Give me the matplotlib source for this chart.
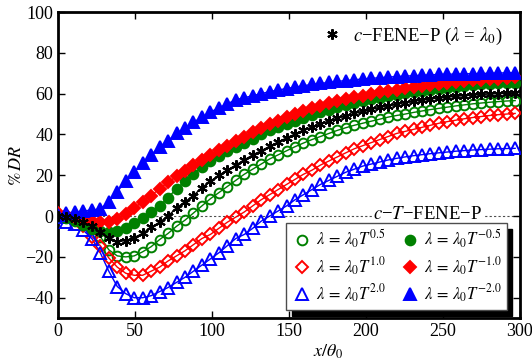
import numpy as np
import matplotlib
matplotlib.use('Agg')
import matplotlib.pyplot as plt

plt.rcParams['font.family'] = ['Liberation Serif', 'DejaVu Serif']
plt.rcParams['mathtext.fontset'] = 'stix'

# marker positions along x/theta0
x = np.linspace(0, 297, 55)

# c-FENE-P (lambda = lambda0)
dr_cfene = [0, -0.5, -1.5, -3, -5, -8, -10.5, -12.5, -12, -10.5, -8.5, -5.5, -3, 0, 4, 7, 10, 14, 17, 20,
            22.5, 25, 27.5, 30, 32, 34.2, 36.3, 38.3, 40.2, 42, 43.7, 45.2, 46.6, 48, 49.2, 50.3, 51.4, 52.4,
            53.3, 54.1, 54.9, 55.6, 56.3, 56.9, 57.4, 57.9, 58.3, 58.7, 59, 59.3, 59.6, 59.8, 60, 60.1, 60.2]

# lambda = lambda0 T^0.5, T^1.0, T^2.0
dr_p05 = [0, -0.5, -1.5, -3, -6, -10, -16.5, -19.5, -20, -19.5, -17.5, -15, -11.5, -8.5, -5, -2, 1.5, 5, 8.5,
          11.5, 14.5, 17.5, 20.5, 23, 25.5, 28, 30, 32, 34, 35.8, 37.5, 39, 40.5, 42, 43.3, 44.5, 45.5, 46.5,
          47.5, 48.5, 49.3, 50, 50.8, 51.5, 52.2, 52.8, 53.4, 54, 54.5, 55, 55.4, 55.8, 56.1, 56.4, 56.6]
dr_p10 = [0.5, -0.5, -2, -5, -10, -14.5, -20.5, -25, -28, -29, -29, -27, -25, -22, -19.5, -17, -14, -11, -9,
          -6, -3, -0.5, 2, 5, 8, 10.5, 13, 15.5, 18, 20.5, 22.5, 25, 27, 29, 31, 33, 34.5, 36, 37.5, 39, 40.5,
          41.5, 42.5, 43.5, 44.5, 45.5, 46.3, 47, 47.7, 48.3, 48.8, 49.3, 49.7, 50, 50.3]
dr_p20 = [-0.5, -3, -4, -7, -11, -18, -27, -34.5, -38, -40, -40, -39, -37, -35, -32.5, -30, -27, -24, -21,
          -18, -14.5, -11, -9, -6, -2.5, 0, 2.5, 5, 8, 10.5, 13, 15.5, 17.5, 19.5, 21.5, 23, 24.5, 25.5, 26.5,
          27.5, 28.3, 29, 29.6, 30.1, 30.6, 31, 31.4, 31.8, 32.1, 32.4, 32.6, 32.8, 33, 33.1, 33.2]

# lambda = lambda0 T^-0.5, T^-1.0, T^-2.0
dr_m05 = [0, -1, -2.5, -4.5, -6.5, -7.5, -8, -7.5, -6, -3.5, -1, 2, 5, 9, 13.5, 17, 20.5, 24, 27, 29.5, 32,
          34, 36, 38, 40, 42, 43.5, 45.2, 46.8, 48.2, 49.6, 50.9, 52.1, 53.3, 54.4, 55.4, 56.3, 57.2, 58,
          58.8, 59.5, 60.2, 60.8, 61.4, 62, 62.5, 63, 63.4, 63.8, 64.2, 64.5, 64.8, 65, 65.2, 65.4]
dr_m10 = [1.5, 0.5, -0.5, -1.5, -2.5, -3, -3, -1.5, 1, 4, 7, 10, 13.5, 16.5, 19.5, 22, 25, 27.5, 30, 32.5,
          34.5, 37, 39, 41, 43, 45, 46.8, 48.5, 50, 51.5, 52.8, 54, 55.2, 56.3, 57.3, 58.2, 59, 59.8, 60.6,
          61.3, 62, 62.6, 63.2, 63.8, 64.3, 64.8, 65.3, 65.7, 66.1, 66.5, 66.8, 67.1, 67.4, 67.7, 68]
dr_m20 = [0.5, 1.5, 2, 2.5, 3, 3.5, 7, 12, 17, 21.5, 26, 30, 34, 37, 40.5, 43, 46, 48.5, 51, 53, 55, 57, 58,
          59, 60, 61, 61.8, 62.5, 63.2, 63.9, 64.5, 65, 65.5, 66, 66.4, 66.8, 67.2, 67.5, 67.8, 68.1, 68.4,
          68.6, 68.8, 69, 69.2, 69.4, 69.5, 69.6, 69.7, 69.8, 69.9, 70, 70.1, 70.2, 70.3]

labels = ['0.5', '1.0', '2.0', '-0.5', '-1.0', '-2.0']
green, red, blue = '#008000', '#ff0000', '#0000ff'

fig = plt.figure(figsize=(5.32, 3.64), dpi=100)
ax = fig.add_axes([0.109, 0.126, 0.868, 0.841])

series = [
    (dr_p05, green, 'o', 'none', 7.0),
    (dr_p10, red, 'D', 'none', 5.8),
    (dr_p20, blue, '^', 'none', 8.0),
    (dr_m05, green, 'o', green, 7.0),
    (dr_m10, red, 'D', red, 5.8),
    (dr_m20, blue, '^', blue, 8.0),
]

# dotted reference line at zero with label
ax.axhline(0, color='0.3', ls=(0, (2, 2)), lw=0.8, zorder=1)
ax.text(240, 1, '$c$\u2212$T$\u2212FENE\u2212P', ha='center', va='center', fontsize=13.5,
        bbox=dict(facecolor='white', edgecolor='none', pad=1), zorder=2)

handles = []
for (vals, col, mk, fc, ms), lab in zip(series, labels):
    ax.plot(x, vals, color=col, lw=1, zorder=3)
    h, = ax.plot(x, vals, ls='none', marker=mk, ms=ms, mfc=fc, mec=col, mew=1.4, zorder=4,
                 label=r'$\lambda\,=\,\lambda_0T^{' + lab.replace('-', '\u2212') + '}$')
    handles.append(h)

ax.plot(x, dr_cfene, color='k', lw=1, zorder=3)
hs, = ax.plot(x, dr_cfene, ls='none', marker=(6, 2, 0), ms=7.5, mec='k', mew=1.5, zorder=5,
              label=r'$c$' + '\u2212FENE\u2212P (' + r'$\lambda$ = $\lambda_0$)')

leg1 = ax.legend(handles=[hs], loc='upper right', frameon=False, fontsize=13.5,
                 handletextpad=0.6, handlelength=1.0, borderpad=0, borderaxespad=0,
                 bbox_to_anchor=(0.963, 0.955))
ax.add_artist(leg1)
leg2 = ax.legend(handles=handles, loc='lower right', ncol=2, fontsize=12, fancybox=False,
                 shadow={'color': 'k', 'alpha': 1, 'ox': 4, 'oy': -4}, framealpha=1,
                 edgecolor='0.3', handletextpad=0.2, columnspacing=0.8, labelspacing=0.3,
                 borderpad=0.3, borderaxespad=0, handlelength=1.3, bbox_to_anchor=(0.972, 0.026))
leg2.get_frame().set_linewidth(1)

ax.set_xlim(0, 300)
ax.set_ylim(-50, 100)
ax.set_xticks(np.arange(0, 301, 50))
ax.set_yticks(np.arange(-40, 101, 20))
ax.set_yticklabels(['\u221240', '\u221220', '0', '20', '40', '60', '80', '100'])
ax.tick_params(direction='in', top=True, right=True, labelsize=13, length=5, width=1)
for s in ax.spines.values():
    s.set_linewidth(2)

ax.set_xlabel(r'$x/\theta_0$', fontsize=13)
ax.xaxis.set_label_coords(0.585, -0.08)
ax.set_ylabel(r'$\%\,DR$', fontsize=13, labelpad=0)

fig.savefig('out.png', dpi=100)
